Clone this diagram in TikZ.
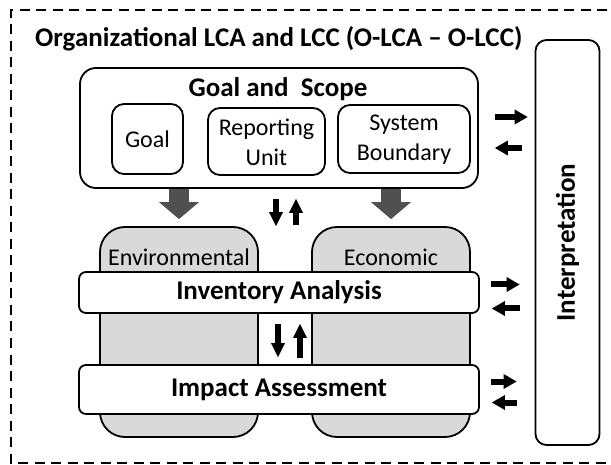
\documentclass[tikz,border=0pt]{standalone}
\usepackage{fontspec}
\setmainfont{Carlito}
\usetikzlibrary{arrows.meta,calc}
\definecolor{panelgray}{RGB}{217,217,217}
\definecolor{flowgray}{RGB}{80,80,80}
\begin{document}
\begin{tikzpicture}[x=1pt,y=-1pt,
  box/.style={draw=black,line width=1.8pt,fill=white,inner sep=0pt},
  panel/.style={draw=black,line width=1.8pt,fill=panelgray,rounded corners=25pt,inner sep=0pt},
  bar/.style={box,rounded corners=7pt,minimum width=400pt},
  heading/.style={font=\fontsize{27}{31}\selectfont\bfseries,inner sep=0pt},
  label/.style={font=\fontsize{24}{30}\selectfont,inner sep=0pt,align=center},
  bigflow/.style={draw=flowgray,line width=20pt,-{Triangle[width=40pt,length=17pt,line width=0pt]}},
  smallflow/.style={draw=black,line width=6pt,-{Triangle[width=15pt,length=13pt,line width=0pt]}},
  swapflow/.style={draw=black,line width=6pt,-{Triangle[width=14pt,length=14pt,line width=0pt]}}]
\useasboundingbox (0,0) rectangle (611,465);

% outer dashed frame (continues past the right edge)
\draw[line width=2.5pt,dash pattern=on 10pt off 6.5pt] (640,10) -- (11,10) -- (11,463) -- (640,463);
\node[heading,anchor=west] (title) at (35,39) {Organizational LCA and LCC (O-LCA – O-LCC)};

% interpretation column
\node[box,rounded corners=11pt,minimum width=64pt,minimum height=405pt] (interp) at (567.5,242.5) {};
\node[heading,rotate=90] (interpt) at (interp) {Interpretation};

% goal and scope
\node[box,rounded corners=16pt,minimum width=398pt,minimum height=120pt] (gs) at (279,128) {};
\node[heading] (gst) at (278,89) {Goal and\ \ Scope};
\node[box,rounded corners=12pt,minimum width=71pt,minimum height=70pt] (goal) at (147.5,139) {};
\node[label] at (goal) {Goal};
\node[box,rounded corners=12pt,minimum width=117pt,minimum height=67pt] (ru) at (266.5,141.5) {};
\node[label] at ($(ru)+(0,1)$) {Reporting\\Unit};
\node[box,rounded corners=12pt,minimum width=132pt,minimum height=68pt] (sb) at (404,139) {};
\node[label] at ($(sb)+(0,1)$) {System\\Boundary};

% environmental and economic panels
\node[panel,minimum width=158pt,minimum height=210pt] (env) at (179,332) {};
\node[panel,minimum width=158pt,minimum height=210pt] (eco) at (391,332) {};
\node[label] (envt) at (179,257) {Environmental};
\node[label] (ecot) at (391,257) {Economic};

% phase bars
\node[bar,minimum height=41pt] (inv) at (279,292.5) {};
\node[heading] at (inv) {Inventory Analysis};
\node[bar,minimum height=49pt] (imp) at (279,389.5) {};
\node[heading] at (imp) {Impact Assessment};

% goal and scope feeds both panels
\draw[bigflow] (gs.south -| env.north) -- ($(env.north)+(0,-7)$);
\draw[bigflow] (gs.south -| eco.north) -- ($(eco.north)+(0,-7)$);

% two-way exchange between phases
\draw[swapflow] ($(gs.south)+(-3,10)$) -- ($(env.north -| gs.south)+(-3,0)$);
\draw[swapflow] ($(env.north -| gs.south)+(17,-1)$) -- ($(gs.south)+(17,10)$);
\draw[swapflow] ($(inv.south)+(-1,10)$) -- ($(imp.north)+(-1,-7)$);
\draw[swapflow] ($(imp.north)+(21,-6)$) -- ($(inv.south)+(21,10)$);

% exchange with interpretation
\draw[smallflow] ($(gs.east)+(16,-11)$) -- ($(interp.west |- gs.east)+(-7,-11)$);
\draw[smallflow] ($(interp.west |- gs.east)+(-13,20)$) -- ($(gs.east)+(16,20)$);
\draw[smallflow] ($(inv.east)+(11,-8)$) -- ($(interp.west |- inv.east)+(-15,-8)$);
\draw[smallflow] ($(interp.west |- inv.east)+(-15,16)$) -- ($(inv.east)+(12,16)$);
\draw[smallflow] ($(imp.east)+(11,-8)$) -- ($(interp.west |- imp.east)+(-18,-8)$);
\draw[smallflow] ($(interp.west |- imp.east)+(-18,13)$) -- ($(imp.east)+(12,13)$);
\end{tikzpicture}
\end{document}
